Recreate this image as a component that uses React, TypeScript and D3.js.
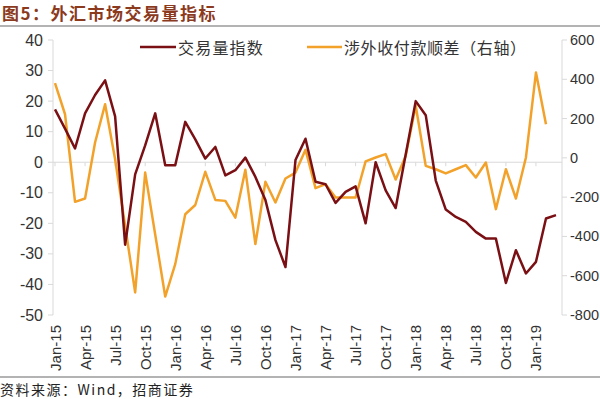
import * as d3 from 'd3'
import { useMemo } from 'react'

// months Jan-15 .. Mar-19
const months: string[] = d3.timeMonths(new Date(2015, 0, 1), new Date(2019, 3, 1))
    .map(d => d3.timeFormat('%b-%y')(d))

const tickLabels = ['Jan-15', 'Apr-15', 'Jul-15', 'Oct-15', 'Jan-16', 'Apr-16', 'Jul-16', 'Oct-16',
    'Jan-17', 'Apr-17', 'Jul-17', 'Oct-17', 'Jan-18', 'Apr-18', 'Jul-18', 'Oct-18', 'Jan-19']

// 交易量指数 (left axis)
const volumeIndex = [
    17.3, 11, 4.5, 16, 22, 26.8, 15, -27, -4, 5.5, 16, -1,
    -1, 13.2, 7.5, 1.2, 5, -4.3, -2.6, 1.5, -4.8, -12.4, -25.5, -34.3,
    0.7, 7.7, -6.4, -7.2, -13.3, -9.7, -7.9, -20, 0, -9.2, -15, 2.5,
    20, 15.4, -6, -15.5, -17.9, -19.5, -22.8, -25, -25, -39.5, -28.8, -36.4,
    -32.6, -18.4, -17.3
]

// 涉外收付款顺差 (right axis)
const netReceipts = [
    380, 222, -224, -207, 78, 273, -7, -346, -685, -75, -390, -706,
    -541, -287, -240, -71, -214, -219, -304, -61, -439, -122, -227, -105,
    -75, 41, -154, -134, -202, -202, -202, -18, 2, 19, -110, 10,
    265, -41, -58, -79, -58, -37, -100, -24, -261, -58, -207, 2,
    434, 171
]

const leftTicks = [40, 30, 20, 10, 0, -10, -20, -30, -40, -50]
const rightTicks = [600, 400, 200, 0, -200, -400, -600, -800]

const BROWN = '#7a1014'
const ORANGE = '#f2a22a'
const AXIS = '#d9d9d9'
const TEXT = '#333'
const FONT = 'Liberation Sans, Arial, sans-serif'
const CJK = '"Noto Sans CJK SC", sans-serif'

const App = () => {
    const svgWidth = 600
    const svgHeight = 399
    const plot = { left: 53, right: 562, top: 40, bottom: 315 }

    const x = useMemo(() => d3.scalePoint<string>().domain(months).range([55, 556]), [])
    const yL = useMemo(() => d3.scaleLinear().domain([-50, 40]).range([plot.bottom, plot.top]), [])
    const yR = useMemo(() => d3.scaleLinear().domain([-800, 600]).range([plot.bottom, plot.top]), [])

    const lineL = d3.line<number>().x((_, i) => x(months[i]) as number).y(d => yL(d))
    const lineR = d3.line<number>().x((_, i) => x(months[i]) as number).y(d => yR(d))

    return (
        <svg width={svgWidth} height={svgHeight} style={{ position: 'absolute', left: 0, top: 0, background: '#fff' }}>
            {/* title */}
            <text x={2} y={20} fontFamily={CJK} fontWeight={700} fontSize={17} letterSpacing={1.5} fill='#8b3a1e'>
                图5：外汇市场交易量指标
            </text>
            <line x1={0} x2={svgWidth} y1={26} y2={26} stroke='#9a9a9a' strokeWidth={1.5} />

            {/* axes */}
            <line x1={plot.left} x2={plot.left} y1={plot.top} y2={plot.bottom} stroke={AXIS} />
            <line x1={plot.right} x2={plot.right} y1={plot.top} y2={plot.bottom} stroke={AXIS} />
            <line x1={plot.left} x2={plot.right} y1={yL(0)} y2={yL(0)} stroke={AXIS} />
            {leftTicks.map(t => (
                <g key={'l' + t}>
                    <line x1={plot.left - 5} x2={plot.left} y1={yL(t)} y2={yL(t)} stroke={AXIS} />
                    <text x={43} y={yL(t)} textAnchor='end' dominantBaseline='central'
                        fontFamily={FONT} fontSize={16} fill={TEXT}>{t}</text>
                </g>
            ))}
            {rightTicks.map(t => (
                <g key={'r' + t}>
                    <line x1={plot.right} x2={plot.right + 5} y1={yR(t)} y2={yR(t)} stroke={AXIS} />
                    <text x={570} y={yR(t)} textAnchor='start' dominantBaseline='central'
                        fontFamily={FONT} fontSize={14.5} fill={TEXT}>{t}</text>
                </g>
            ))}
            {tickLabels.map(m => {
                const xp = x(m) as number
                return (
                    <g key={m}>
                        <line x1={xp} x2={xp} y1={yL(0)} y2={yL(0) + 4} stroke={AXIS} />
                        <text transform={`translate(${xp},${plot.bottom + 10}) rotate(-90)`}
                            textAnchor='end' dominantBaseline='central'
                            fontFamily={FONT} fontSize={15} fill={TEXT}>{m}</text>
                    </g>
                )
            })}

            {/* series */}
            <path d={lineR(netReceipts) ?? ''} fill='none' stroke={ORANGE} strokeWidth={2.5} strokeLinejoin='round' />
            <path d={lineL(volumeIndex) ?? ''} fill='none' stroke={BROWN} strokeWidth={2.5} strokeLinejoin='round' />

            {/* legend */}
            <line x1={140} x2={176} y1={47} y2={47} stroke={BROWN} strokeWidth={2.5} />
            <text x={178} y={47} dominantBaseline='central' fontFamily={CJK} fontSize={16} letterSpacing={1.2} fill={TEXT}>
                交易量指数
            </text>
            <line x1={307} x2={342} y1={47} y2={47} stroke={ORANGE} strokeWidth={2.5} />
            <text x={344} y={47} dominantBaseline='central' fontFamily={CJK} fontSize={16} letterSpacing={0.6} fill={TEXT}>
                涉外收付款顺差（右轴）
            </text>

            {/* footer */}
            <line x1={0} x2={svgWidth} y1={377} y2={377} stroke='#9a9a9a' strokeWidth={1.5} />
            <text x={0} y={389} dominantBaseline='central' fontFamily={CJK} fontSize={14} letterSpacing={1.5} fill='#222'>
                资料来源：Wind，招商证券
            </text>
        </svg>
    )
}

export default App
